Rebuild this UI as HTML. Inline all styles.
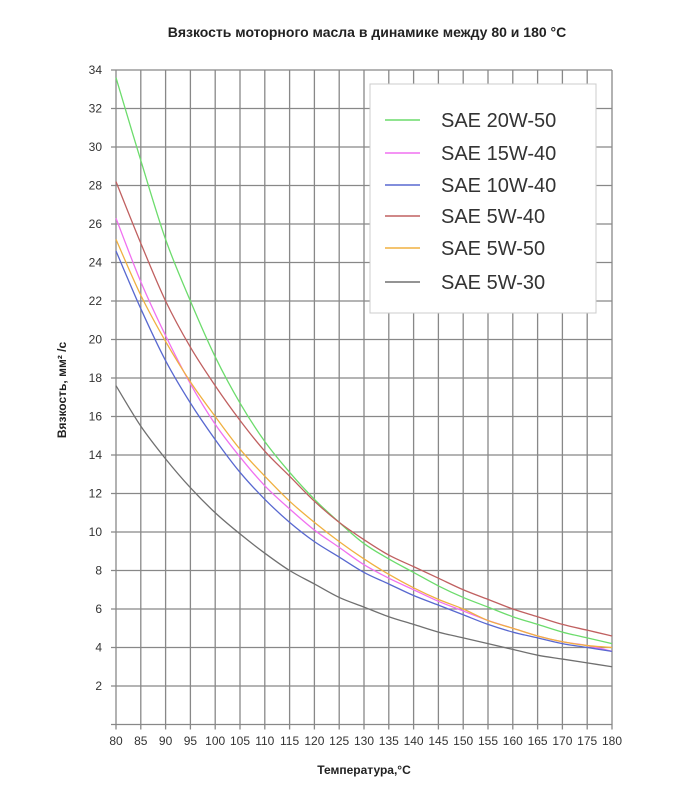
<!DOCTYPE html>
<html><head><meta charset="utf-8"><style>
body{margin:0;background:#fff;font-family:"Liberation Sans","DejaVu Sans",sans-serif;}
svg text{font-family:"Liberation Sans","DejaVu Sans",sans-serif;}
</style></head><body>
<svg id="chart" width="700" height="801">
<text x="367" y="37" text-anchor="middle" font-size="14" font-weight="bold" fill="#222">Вязкость моторного масла в динамике между 80 и 180 °C</text>
<g id="grid"></g>
<g id="series"></g>
<text transform="translate(66,390) rotate(-90)" text-anchor="middle" font-size="12" font-weight="bold" fill="#222">Вязкость,  мм² /с</text>
<text x="364" y="774" text-anchor="middle" font-size="12" font-weight="bold" fill="#222">Температура,°C</text>
<g>
<rect x="370" y="84" width="226" height="229" fill="#fff" stroke="#ccc"/>
<g id="legend"></g>
</g>
</svg>
<script>
const temps=[80,85,90,95,100,105,110,115,120,125,130,135,140,145,150,155,160,165,170,175,180];
const yTicks=[2,4,6,8,10,12,14,16,18,20,22,24,26,28,30,32,34];
const seriesNames=["SAE 20W-50","SAE 15W-40","SAE 10W-40","SAE 5W-40","SAE 5W-50","SAE 5W-30"];
const seriesColors=["#6cdc6c","#f070f0","#5868d0","#c06060","#f0b040","#707070"];
const sae20w50=[33.6,29.3,25.2,22,19.1,16.7,14.7,13.1,11.7,10.5,9.4,8.6,7.9,7.2,6.6,6.1,5.6,5.2,4.8,4.5,4.2];
const sae15w40=[26.3,23,20.2,17.7,15.6,13.9,12.4,11.2,10.1,9.2,8.3,7.6,7.0,6.4,5.9,5.4,5.0,4.6,4.3,4.1,3.8];
const sae10w40=[24.6,21.6,18.9,16.7,14.8,13.1,11.7,10.5,9.5,8.7,7.9,7.3,6.7,6.2,5.7,5.2,4.8,4.5,4.2,4.0,3.8];
const sae5w40=[28.2,25,22,19.6,17.6,15.8,14.2,12.9,11.6,10.5,9.6,8.8,8.2,7.6,7.0,6.5,6.0,5.6,5.2,4.9,4.6];
const sae5w50=[25.2,22.3,19.9,17.8,16,14.3,12.9,11.6,10.5,9.5,8.6,7.8,7.1,6.5,6.0,5.4,5.0,4.6,4.3,4.1,4.0];
const sae5w30=[17.6,15.5,13.8,12.3,11,9.9,8.9,8.0,7.3,6.6,6.1,5.6,5.2,4.8,4.5,4.2,3.9,3.6,3.4,3.2,3.0];
const allSeries=[sae20w50,sae15w40,sae10w40,sae5w40,sae5w50,sae5w30];
const X=t=>116+(t-80)*(612-116)/100;
const Y=v=>724.5-v*19.25;
const NS="http://www.w3.org/2000/svg";
const grid=document.getElementById('grid');
function mk(tag,attrs,parent){const e=document.createElementNS(NS,tag);for(const k in attrs)e.setAttribute(k,attrs[k]);parent.appendChild(e);return e;}
temps.forEach(t=>{
 const l=mk('line',{x1:X(t),x2:X(t),y1:Y(34),y2:Y(0)+5,stroke:'#888','stroke-width':1.3},grid);
 
 
 const tx=mk('text',{x:X(t),y:745,'text-anchor':'middle','font-size':12,fill:'#333'},grid);
 tx.textContent=t;
 
 
});
[0].concat(yTicks).forEach(v=>{
 const l=mk('line',{x1:X(80)-5,x2:X(180),y1:Y(v),y2:Y(v),stroke:'#888','stroke-width':1.3},grid);
 
 
 if(v>0){const tx=mk('text',{x:102,y:Y(v)+4,'text-anchor':'end','font-size':12,fill:'#333'},grid);
 tx.textContent=v;
 
 }
});
const sg=document.getElementById('series');
allSeries.forEach((vals,i)=>{
 const p=temps.map((t,j)=>[X(t),Y(vals[j])]);
 let d='M'+p[0][0]+','+p[0][1];
 for(let j=0;j<p.length-1;j++){
  const p0=p[Math.max(j-1,0)],p1=p[j],p2=p[j+1],p3=p[Math.min(j+2,p.length-1)];
  d+=' C'+(p1[0]+(p2[0]-p0[0])/6)+','+(p1[1]+(p2[1]-p0[1])/6)+' '+(p2[0]-(p3[0]-p1[0])/6)+','+(p2[1]-(p3[1]-p1[1])/6)+' '+p2[0]+','+p2[1];
 }
 const path=mk('path',{d:d,fill:'none',stroke:seriesColors[i],'stroke-width':1.3},sg);
 
 
});
const lg=document.getElementById('legend');
const ly=[120,153,185,216,248,282];
seriesNames.forEach((n,i)=>{
 const l=mk('line',{x1:385,x2:420,y1:ly[i],y2:ly[i],stroke:seriesColors[i],'stroke-width':1.5},lg);
 
 
 const t=mk('text',{x:441,y:ly[i]+7,'font-size':20,fill:'#333'},lg);
 t.textContent=n;
 
 
});
</script>
</body></html>
